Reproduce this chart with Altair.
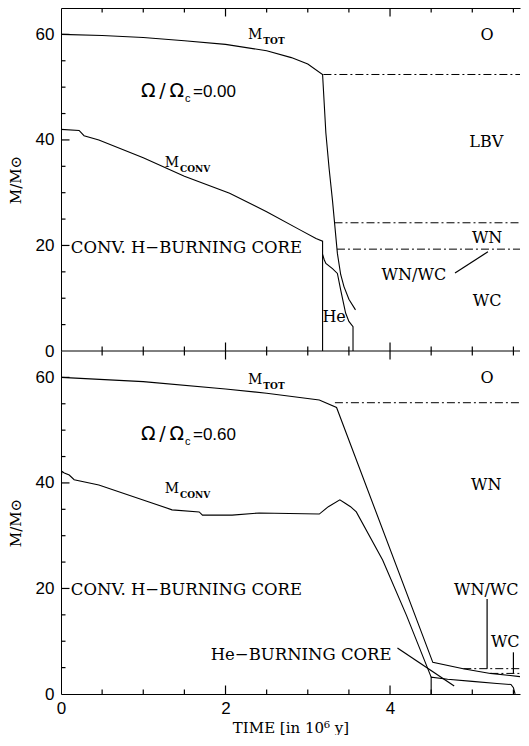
import altair as alt
import pandas as pd

# ---------------- panel (a): Omega/Omega_c = 0.00 ----------------
a_tot_t = [0.0, 0.5, 1.0, 1.5, 2.0, 2.5, 2.8, 3.0, 3.18, 3.22, 3.26, 3.30, 3.36, 3.40, 3.44, 3.50, 3.58]
a_tot_m = [60.0, 59.8, 59.4, 58.8, 58.1, 56.9, 55.6, 54.4, 52.4, 41.3, 34.5, 28.6, 18.5, 14.5, 12.2, 9.8, 7.8]
a_conv_t = [0.0, 0.22, 0.28, 0.46, 1.0, 1.5, 2.05, 2.5, 2.9, 3.1, 3.18, 3.18]
a_conv_m = [42.0, 41.8, 40.8, 40.0, 36.6, 33.1, 29.9, 26.4, 23.0, 21.3, 20.8, 0.0]
a_he_t = [3.18, 3.20, 3.22, 3.30, 3.36, 3.40, 3.46, 3.50, 3.55, 3.55]
a_he_m = [18.3, 17.3, 16.6, 15.6, 14.7, 11.6, 7.2, 5.6, 4.6, 0.0]
a_bound_start = [3.19, 3.325, 3.355]
a_bound_level = [52.4, 24.3, 19.3]

a_lbl_text = ["O", "LBV", "WN", "WN/WC", "WC", "He"]
a_lbl_t = [5.18, 5.17, 5.18, 4.29, 5.18, 3.32]
a_lbl_m = [58.9, 38.7, 20.5, 13.5, 8.5, 5.5]
a_left_text = ["CONV. H\u2212BURNING CORE"]
a_left_t = [0.12]
a_left_m = [18.6]
a_right_text = []
a_right_t = []
a_right_m = []
a_m_sub = ["TOT", "CONV"]
a_m_t = [2.448, 1.435]
a_m_m = [59.1, 34.9]
a_omega_val = ["=0.00"]
a_omega_t = [1.495]
a_omega_m = [48.1]
a_ptr = [(4.79, 14.8, 5.19, 18.8)]

# ---------------- panel (b): Omega/Omega_c = 0.60 ----------------
b_tot_t = [0.0, 1.0, 2.0, 2.5, 3.14, 3.35, 4.52, 4.89, 5.22, 5.58]
b_tot_m = [60.0, 59.2, 57.8, 57.0, 55.7, 54.3, 6.0, 4.8, 3.9, 3.3]
b_conv_t = [0.0, 0.01, 0.04, 0.10, 0.16, 0.46, 1.07, 1.35, 1.68, 1.72, 2.08, 2.41,
            3.14, 3.25, 3.39, 3.45, 3.52, 3.59, 3.91, 4.20, 4.50]
b_conv_m = [40.3, 42.2, 41.9, 41.5, 40.6, 39.6, 36.4, 34.9, 34.5, 33.9, 33.9, 34.3,
            34.1, 35.5, 36.8, 36.2, 35.5, 34.5, 25.4, 14.9, 3.2]
b_he_t = [4.50, 4.50, 4.70, 5.00, 5.30, 5.47, 5.50, 5.52]
b_he_m = [0.0, 3.2, 2.8, 2.4, 2.0, 1.8, 1.2, 0.0]
b_bound_start = [3.33, 4.89, 5.22]
b_bound_level = [55.2, 4.8, 3.9]

b_lbl_text = ["O", "WN", "WN/WC"]
b_lbl_t = [5.18, 5.17, 5.17]
b_lbl_m = [58.9, 38.7, 18.8]
b_left_text = ["CONV. H\u2212BURNING CORE", "He\u2212BURNING CORE"]
b_left_t = [0.12, 1.82]
b_left_m = [18.8, 6.5]
b_right_text = ["WC"]
b_right_t = [5.575]
b_right_m = [8.9]
b_m_sub = ["TOT", "CONV"]
b_m_t = [2.448, 1.435]
b_m_m = [58.7, 38.1]
b_omega_val = ["=0.60"]
b_omega_t = [1.495]
b_omega_m = [48.1]
b_ptr = [(5.18, 18.0, 5.18, 4.8), (5.50, 7.9, 5.50, 3.9), (4.09, 8.7, 4.78, 1.5)]

# ---------------- axes ----------------
XMAX, YMAX = 5.58, 65.0
x_labels = [0, 2, 4]
y_labels = [0, 20, 40, 60]
x_minor = [0.5, 1.0, 1.5, 2.5, 3.0, 3.5, 4.5, 5.0, 5.5]
x_major = [2, 4]
y_minor = [5, 10, 15, 25, 30, 35, 45, 50, 55]
y_major = [20, 40, 60]

W, H = 459, 343
X_TITLE = "TIME [in 10\u2076 y]"
Y_TITLE = "M/M\u2299"
SERIF = "DejaVu Serif"
TICK_MINOR, TICK_MAJOR = 4.5, 8.5   # tick lengths in pixels


def enc_x(field, top):
    if top:
        ax = alt.Axis(orient="top", labels=False, ticks=False, domain=True,
                      domainColor="black", grid=False, title=None)
    else:
        ax = alt.Axis(orient="bottom", values=x_labels, format="d", ticks=False,
                      domain=True, domainColor="black", grid=False, labelFlush=False,
                      labelPadding=6, titlePadding=4, title=X_TITLE)
    return alt.X(field, type="quantitative",
                 scale=alt.Scale(domain=[0, XMAX], nice=False, zero=False), axis=ax)


def enc_y(field):
    ax = alt.Axis(orient="left", values=y_labels, format="d", ticks=False, domain=True,
                  domainColor="black", grid=False, labelFlush=False, labelPadding=7,
                  titlePadding=12, title=Y_TITLE)
    return alt.Y(field, type="quantitative",
                 scale=alt.Scale(domain=[0, YMAX], nice=False, zero=False), axis=ax)


def series_df(pairs):
    rows = []
    for name, ts, ms in pairs:
        for i, (t, m) in enumerate(zip(ts, ms)):
            rows.append({"s": name, "i": i, "t": t, "m": m})
    return pd.DataFrame(rows)


def bounds_df(starts, levels):
    rows = []
    for k, (t0, lev) in enumerate(zip(starts, levels)):
        rows.append({"s": k, "i": 0, "t": t0, "m": lev})
        rows.append({"s": k, "i": 1, "t": XMAX, "m": lev})
    return pd.DataFrame(rows)


def ticks_df():
    """Inward tick marks as segments (t, m) -> (t2, m2)."""
    rows = []
    for vals, L in ((x_minor, TICK_MINOR), (x_major, TICK_MAJOR)):
        lm = L / H * YMAX
        for v in vals:
            rows.append({"t": float(v), "m": 0.0, "t2": float(v), "m2": lm})
            rows.append({"t": float(v), "m": YMAX, "t2": float(v), "m2": YMAX - lm})
    for vals, L in ((y_minor, TICK_MINOR), (y_major, TICK_MAJOR)):
        lt = L / W * XMAX
        for v in vals:
            rows.append({"t": 0.0, "m": float(v), "t2": lt, "m2": float(v)})
    return pd.DataFrame(rows)


def text_layer(ex, texts, ts, ms, **kw):
    df = pd.DataFrame({"s": texts, "t": ts, "m": ms})
    return (alt.Chart(df).mark_text(color="black", baseline="alphabetic", clip=True, **kw)
            .encode(x=ex("t"), y=enc_y("m"), text="s:N"))


def panel(top, lines, bnds, lbl, left, right, msub, omega, ptr):
    ex = lambda f: enc_x(f, top)
    layers = []
    tk = pd.concat([pd.DataFrame(ptr, columns=["t", "m", "t2", "m2"]), ticks_df()], ignore_index=True)
    layers.append(alt.Chart(tk).mark_rule(color="black", strokeWidth=1.2, clip=True)
                  .encode(x=ex("t"), y=enc_y("m"), x2="t2:Q", y2="m2:Q"))
    layers.append(alt.Chart(series_df(lines)).mark_line(color="black", strokeWidth=1.1, clip=True)
                  .encode(x=ex("t"), y=enc_y("m"), detail="s:N", order="i:Q"))
    layers.append(alt.Chart(bnds).mark_line(color="black", strokeWidth=1.0, strokeDash=[8, 3, 2, 3], clip=True)
                  .encode(x=ex("t"), y=enc_y("m"), detail="s:N", order="i:Q"))
    if top:
        layers.append(alt.Chart(pd.DataFrame({"m": [0.0]})).mark_rule(color="black", strokeWidth=1.0)
                      .encode(y=enc_y("m"), x=alt.value(0), x2=alt.value(W)))
    # labels
    layers.append(text_layer(ex, *lbl, font=SERIF, fontSize=16, align="center"))
    layers.append(text_layer(ex, *left, font=SERIF, fontSize=16.5, align="left"))
    if right[0]:
        layers.append(text_layer(ex, *right, font=SERIF, fontSize=16, align="right"))
    layers.append(text_layer(ex, ["M"] * len(msub[0]), msub[1], msub[2],
                             font=SERIF, fontSize=14, align="right"))
    layers.append(text_layer(ex, *msub, font=SERIF, fontSize=9, fontWeight="bold",
                             align="left", dx=1, dy=5))
    n = len(omega[0])
    layers.append(text_layer(ex, ["\u03a9\u2009/\u2009\u03a9"] * n, omega[1], omega[2],
                             font="DejaVu Sans", fontSize=19, align="right"))
    layers.append(text_layer(ex, ["c"] * n, omega[1], omega[2],
                             font="Liberation Sans", fontSize=11, align="left", dx=1, dy=5))
    layers.append(text_layer(ex, *omega, font="Liberation Sans", fontSize=17, align="left", dx=9))
    return alt.layer(*layers).properties(width=W, height=H)


pa = panel(True,
           [("tot", a_tot_t, a_tot_m), ("conv", a_conv_t, a_conv_m), ("he", a_he_t, a_he_m)],
           bounds_df(a_bound_start, a_bound_level),
           (a_lbl_text, a_lbl_t, a_lbl_m), (a_left_text, a_left_t, a_left_m),
           (a_right_text, a_right_t, a_right_m),
           (a_m_sub, a_m_t, a_m_m), (a_omega_val, a_omega_t, a_omega_m), a_ptr)
pb = panel(False,
           [("tot", b_tot_t, b_tot_m), ("conv", b_conv_t, b_conv_m), ("he", b_he_t, b_he_m)],
           bounds_df(b_bound_start, b_bound_level),
           (b_lbl_text, b_lbl_t, b_lbl_m), (b_left_text, b_left_t, b_left_m),
           (b_right_text, b_right_t, b_right_m),
           (b_m_sub, b_m_t, b_m_m), (b_omega_val, b_omega_t, b_omega_m), b_ptr)

chart = (alt.vconcat(pa, pb, spacing=0, bounds="flush")
         .properties(padding=0)
         .configure_view(stroke=None)
         .configure_axis(labelFont="Liberation Sans", labelFontSize=17, labelColor="black",
                         titleFont=SERIF, titleFontSize=15, titleFontWeight="normal",
                         titleColor="black", domainColor="black", domainWidth=1))

chart.save("out.html", embed_options={"renderer": "svg", "actions": False})
